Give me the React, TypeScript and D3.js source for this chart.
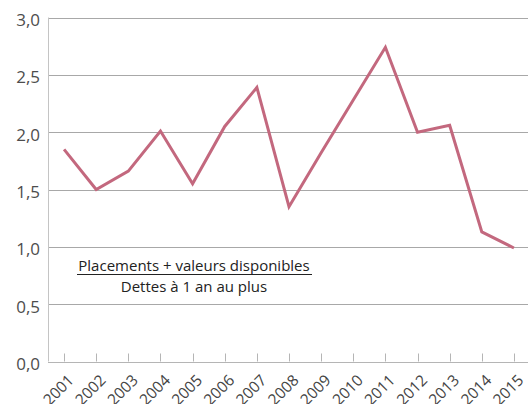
import { line, scaleBand, scaleLinear } from "d3";

const years = [
  "2001", "2002", "2003", "2004", "2005", "2006", "2007", "2008",
  "2009", "2010", "2011", "2012", "2013", "2014", "2015",
];

const ratio = [
  1.85, 1.5, 1.66, 2.01, 1.55, 2.05, 2.39, 1.35,
  1.82, 2.28, 2.74, 2.0, 2.06, 1.13, 0.99,
];

const yTicks = [0, 0.5, 1, 1.5, 2, 2.5, 3];

const labelTop = "Placements + valeurs disponibles";
const labelBottom = "Dettes à 1 an au plus";

export default function App() {
  const width = 528;
  const height = 404;
  const padding = { top: 17.5, right: -2, bottom: 42.5, left: 48 };
  const font = "'Open Sans', 'Noto Sans', sans-serif";

  const x = scaleBand()
    .domain(years)
    .range([padding.left, width - padding.right])
    .padding(0);

  const y = scaleLinear()
    .domain([0, 3])
    .range([height - padding.bottom, padding.top]);

  const cx = (year: string) => (x(year) ?? 0) + x.bandwidth() / 2;

  const path = line<number>()
    .x((_, i) => cx(years[i]))
    .y((d) => y(d))(ratio);

  const baseY = y(0);

  return (
    <svg
      width={width}
      height={height}
      style={{ position: "absolute", left: 0, top: 0, background: "#fff" }}
      fontFamily={font}
    >
      <g>
        {yTicks.map((t) => (
          <line
            key={`grid-${t}`}
            x1={padding.left}
            x2={width}
            y1={Math.round(y(t)) + 0.5}
            y2={Math.round(y(t)) + 0.5}
            stroke={t === 0 ? "#b5b5b5" : "#a8a8a8"}
            strokeWidth={1}
          />
        ))}
        <line
          x1={padding.left + 0.5}
          x2={padding.left + 0.5}
          y1={y(3)}
          y2={baseY}
          stroke="#c4c4c4"
        />
      </g>
      <g>
        {yTicks.map((t) => (
          <text
            key={`yl-${t}`}
            x={40}
            y={y(t) + 8.6}
            textAnchor="end"
            fontSize={17}
            fill="#4d4d4d"
          >
            {t.toFixed(1).replace(".", ",")}
          </text>
        ))}
      </g>
      <g>
        {years.map((yr) => (
          <g key={`xt-${yr}`}>
            <line
              x1={Math.round(cx(yr)) + 0.5}
              x2={Math.round(cx(yr)) + 0.5}
              y1={baseY - 8}
              y2={baseY}
              stroke="#b5b5b5"
            />
            <text
              transform={`translate(${cx(yr) + 3},${baseY + 12}) rotate(-45)`}
              textAnchor="end"
              dy="0.7em"
              fontSize={15.5}
              fill="#444"
            >
              {yr}
            </text>
          </g>
        ))}
      </g>
      <path
        d={path ?? ""}
        fill="none"
        stroke="#c3687e"
        strokeWidth={3}
        strokeLinejoin="miter"
      />
      <g fontSize={15} fill="#222" textAnchor="middle">
        <text x={194} y={270.5}>
          {labelTop}
        </text>
        <line x1={77} x2={312} y1={274.5} y2={274.5} stroke="#222" strokeWidth={1} />
        <text x={194} y={291.5}>
          {labelBottom}
        </text>
      </g>
    </svg>
  );
}
